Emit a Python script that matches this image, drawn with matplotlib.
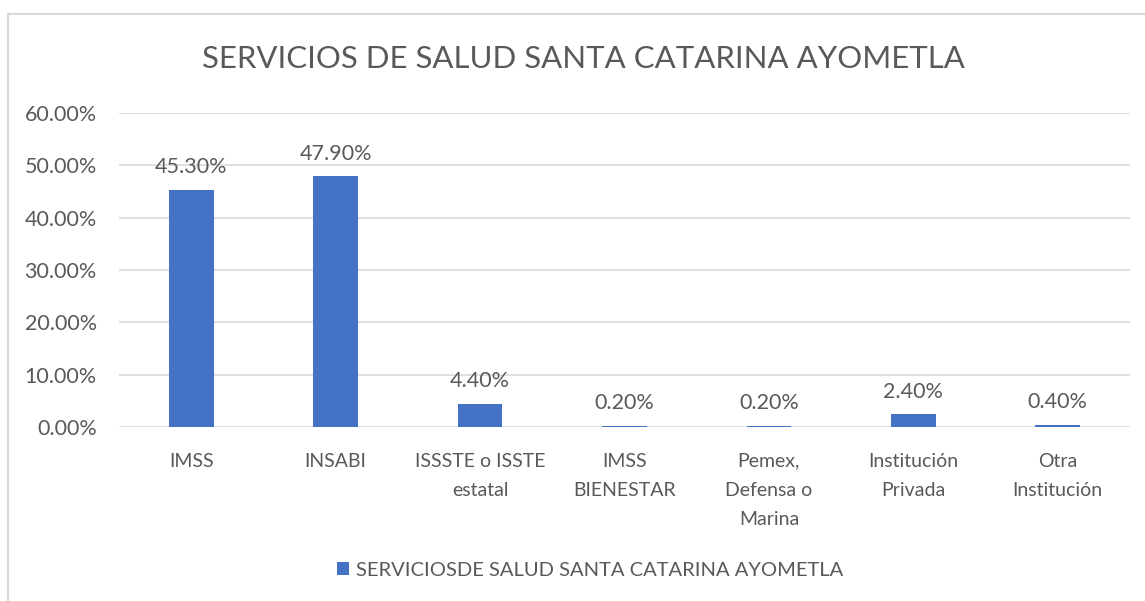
import matplotlib.pyplot as plt
from matplotlib.lines import Line2D

categories = ['IMSS', 'INSABI', 'ISSSTE o ISSTE\nestatal', 'IMSS\nBIENESTAR',
              'Pemex,\nDefensa o\nMarina', 'Institución\nPrivada', 'Otra\nInstitución']
values = [45.3, 47.9, 4.4, 0.2, 0.2, 2.4, 0.4]
yticks = [0, 10, 20, 30, 40, 50, 60]

title = 'SERVICIOS DE SALUD SANTA CATARINA AYOMETLA'
series_name = 'SERVICIOSDE SALUD SANTA CATARINA AYOMETLA'

bar_color = '#4472C4'
text_color = '#595959'
grid_color = '#D9D9D9'

plt.rcParams['font.family'] = ['Lato', 'DejaVu Sans']

fig = plt.figure(figsize=(11.45, 6.01), dpi=100)
ax = fig.add_axes([0.1039, 0.2895, 0.883, 0.5225])

x = range(len(categories))
bars = ax.bar(x, values, width=0.31, color=bar_color, zorder=3, label=series_name)

for xi, v in zip(x, values):
    ax.annotate('%.2f%%' % v, (xi, v), xytext=(0, 9), textcoords='offset points',
                ha='center', va='bottom', fontsize=15.5, color=text_color)

ax.set_xlim(-0.5, len(categories) - 0.5)
ax.set_ylim(0, 60)
ax.set_yticks(yticks)
ax.set_yticklabels(['%.2f%%' % t for t in yticks], fontsize=15.5, color=text_color)
ax.set_xticks(list(x))
ax.set_xticklabels(categories, fontsize=14, color=text_color, linespacing=1.85)
ax.tick_params(axis='both', length=0)
ax.tick_params(axis='y', pad=16)
ax.tick_params(axis='x', pad=18.5)
ax.yaxis.grid(True, color=grid_color, linewidth=1.2, zorder=0)
for s in ax.spines.values():
    s.set_visible(False)

fig.text(583 / 1145, 1 - 59 / 601, title, ha='center', va='center',
         fontsize=22.4, color=text_color)

fig.legend(handles=[bars], loc='center', bbox_to_anchor=(590 / 1145, 1 - 570 / 601),
           frameon=False, fontsize=14.5, labelcolor=text_color,
           handlelength=0.6, handleheight=0.6, handletextpad=0.35)

# chart border (left and top visible only)
fig.add_artist(Line2D([8 / 1145, 8 / 1145], [0, 1 - 14 / 601], transform=fig.transFigure,
                      color=grid_color, linewidth=1.5))
fig.add_artist(Line2D([8 / 1145, 1], [1 - 14 / 601, 1 - 14 / 601], transform=fig.transFigure,
                      color=grid_color, linewidth=1.5))

fig.savefig('out.png', dpi=100)
